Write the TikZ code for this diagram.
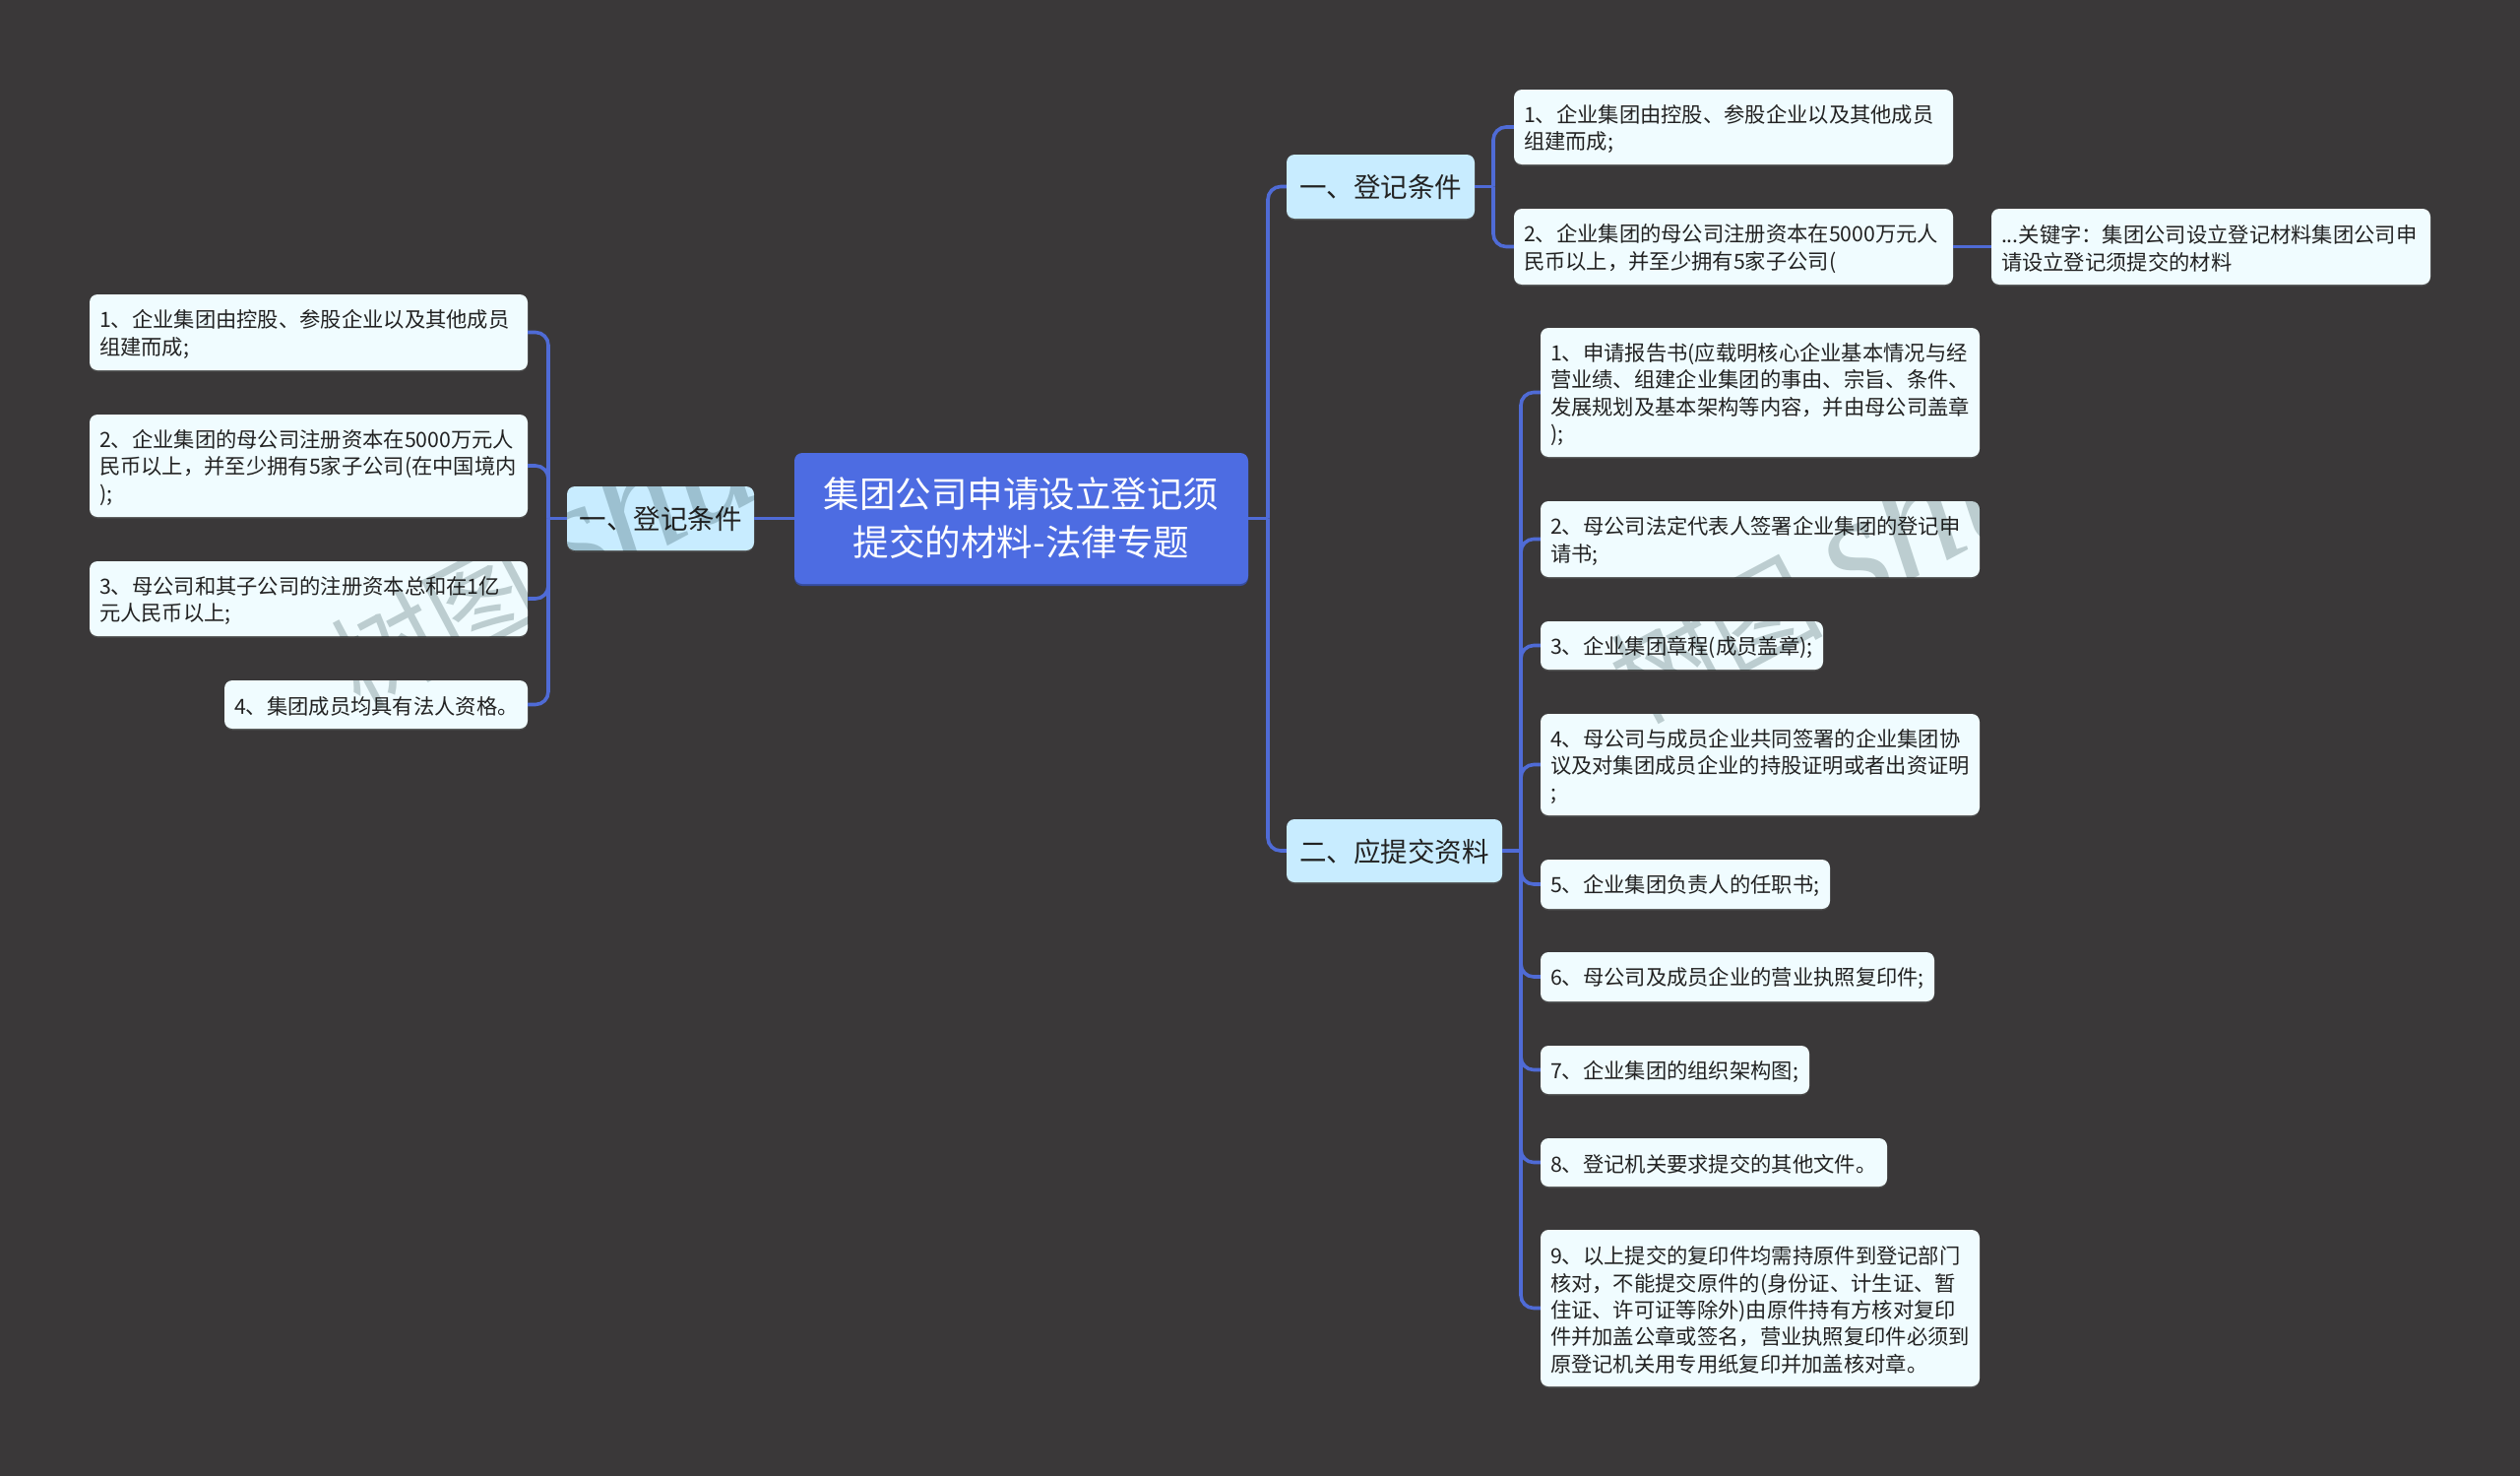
\documentclass[tikz,border=0pt]{standalone}
\usepackage{fontspec}
\setmainfont{Noto Sans CJK SC}
\newfontfamily\wmlatin{Liberation Serif}
\usetikzlibrary{shadows}
\definecolor{bgc}{HTML}{3A3839}
\definecolor{linec}{HTML}{4F6BD6}
\definecolor{rootc}{HTML}{4D6CE2}
\definecolor{branchc}{HTML}{C8ECFF}
\definecolor{leafc}{HTML}{F0FCFF}
\definecolor{inkc}{HTML}{222222}
\definecolor{wmc}{HTML}{C8D0D0}
\tikzset{
  boxbase/.style={shape=rectangle,rounded corners=8pt,inner xsep=10pt,inner ysep=0pt,anchor=center},
  rootbox/.style={boxbase,fill=rootc,text=white,align=center,
    font=\fontsize{36.5}{49}\selectfont,general shadow={fill=rootc!70!black,shadow yshift=-2pt}},
  branchbox/.style={boxbase,fill=branchc,text=inkc,align=center,
    execute at begin node={\rule{0pt}{25pt}},
    font=\fontsize{27.5}{33}\selectfont,general shadow={fill=black!70,shadow yshift=-1.5pt}},
  leafbox/.style={boxbase,fill=leafc,text=inkc,align=left,
    execute at begin node={\rule{0pt}{22pt}},
    font=\fontsize{21.3}{27.4}\selectfont,general shadow={fill=black!70,shadow yshift=-1.5pt}},
  conn/.style={draw=linec,line width=3.6pt},
  curvelink/.style={draw=linec,line width=3.6pt,rounded corners=13pt},
  wmark/.style={text=wmc,rotate=28,inner sep=0pt,anchor=west,font=\fontsize{108}{118}\selectfont}
}
\newcommand{\mm}[7]{%
  \pgfmathsetmacro{\mmcx}{(#3+#5)/2}%
  \pgfmathsetmacro{\mmcy}{(#4+#6)/2}%
  \pgfmathsetmacro{\mmw}{#5-#3}%
  \pgfmathsetmacro{\mmh}{#6-#4}%
  \pgfmathsetmacro{\mmt}{#5-#3-20}%
  \node[#2,minimum width=\mmw pt,minimum height=\mmh pt,text width=\mmt pt] (#1) at (\mmcx,\mmcy) {#7};%
}
\newcommand{\wmtext}{树图 {\wmlatin\itshape\fontsize{165}{170}\selectfont shutu}}
\begin{document}
\begin{tikzpicture}[x=1pt,y=-1pt]
\useasboundingbox (0,0) rectangle (2560,1499);
\fill[bgc] (0,0) rectangle (2560,1499);

\coordinate (sl) at (557,0);
\coordinate (st) at (1288,0);
\coordinate (su) at (1517,0);
\coordinate (sd) at (1545,0);

\mm{root}{rootbox}{807}{460}{1268}{593}{集团公司申请设立登记须\\提交的材料-法律专题}
\mm{lb}{branchbox}{576}{494}{766}{559}{一、登记条件}
\mm{ua}{branchbox}{1307}{157}{1498}{222}{一、登记条件}
\mm{da}{branchbox}{1307}{832}{1526}{896}{二、应提交资料}

\mm{la}{leafbox}{91}{299}{536}{376}{1、企业集团由控股、参股企业以及其他成员\\组建而成;}
\mm{lc}{leafbox}{91}{421}{536}{525}{2、企业集团的母公司注册资本在5000万元人\\民币以上，并至少拥有5家子公司(在中国境内\\);}
\mm{ld}{leafbox}{91}{570}{536}{646}{3、母公司和其子公司的注册资本总和在1亿\\元人民币以上;}
\mm{le}{leafbox}{228}{691}{536}{740}{4、集团成员均具有法人资格。}

\mm{ub}{leafbox}{1538}{91}{1984}{167}{1、企业集团由控股、参股企业以及其他成员\\组建而成;}
\mm{uc}{leafbox}{1538}{212}{1984}{289}{2、企业集团的母公司注册资本在5000万元人\\民币以上，并至少拥有5家子公司(}
\mm{ud}{leafbox}{2023}{212}{2469}{289}{...关键字：集团公司设立登记材料集团公司申\\请设立登记须提交的材料}

\mm{d1}{leafbox}{1565}{333}{2011}{464}{1、申请报告书(应载明核心企业基本情况与经\\营业绩、组建企业集团的事由、宗旨、条件、\\发展规划及基本架构等内容，并由母公司盖章\\);}
\mm{d2}{leafbox}{1565}{509}{2011}{586}{2、母公司法定代表人签署企业集团的登记申\\请书;}
\mm{d3}{leafbox}{1565}{631}{1852}{680}{3、企业集团章程(成员盖章);}
\mm{d4}{leafbox}{1565}{725}{2011}{828}{4、母公司与成员企业共同签署的企业集团协\\议及对集团成员企业的持股证明或者出资证明\\;}
\mm{d5}{leafbox}{1565}{873}{1859}{923}{5、企业集团负责人的任职书;}
\mm{d6}{leafbox}{1565}{967}{1965}{1017}{6、母公司及成员企业的营业执照复印件;}
\mm{d7}{leafbox}{1565}{1062}{1838}{1111}{7、企业集团的组织架构图;}
\mm{d8}{leafbox}{1565}{1156}{1917}{1205}{8、登记机关要求提交的其他文件。}
\mm{d9}{leafbox}{1565}{1249}{2011}{1408}{9、以上提交的复印件均需持原件到登记部门\\核对，不能提交原件的(身份证、计生证、暂\\住证、许可证等除外)由原件持有方核对复印\\件并加盖公章或签名，营业执照复印件必须到\\原登记机关用专用纸复印并加盖核对章。}

% connectors
\draw[conn] (root.west) -- (lb.east);
\draw[conn] (lb.west) -- (lb.west -| sl);
\foreach \n in {la,lc,ld,le} \draw[curvelink] (lb.west -| sl) |- (\n.east);

\draw[conn] (root.east) -- (root.east -| st);
\draw[curvelink] (root.east -| st) |- (ua.west);
\draw[curvelink] (root.east -| st) |- (da.west);

\draw[conn] (ua.east) -- (ua.east -| su);
\foreach \n in {ub,uc} \draw[curvelink] (ua.east -| su) |- (\n.west);
\draw[conn] (uc.east) -- (ud.west);

\draw[conn] (da.east) -- (da.east -| sd);
\foreach \n in {d1,d2,d3,d4,d5,d6,d7,d8,d9} \draw[curvelink] (da.east -| sd) |- (\n.west);

% watermark: shows on the light nodes only
\begin{scope}
  \clip[rounded corners=8pt]
    (lb.north west) rectangle (lb.south east)
    (la.north west) rectangle (la.south east)
    (lc.north west) rectangle (lc.south east)
    (ld.north west) rectangle (ld.south east)
    (le.north west) rectangle (le.south east)
    (d1.north west) rectangle (d1.south east)
    (d2.north west) rectangle (d2.south east)
    (d3.north west) rectangle (d3.south east)
    (d4.north west) rectangle (d4.south east);
  \begin{scope}[blend mode=multiply]
    \node[wmark] (wma) at (340,675) {\wmtext};
    \node[wmark] (wmb) at (1640,690) {\wmtext};
  \end{scope}
\end{scope}
\end{tikzpicture}
\end{document}
